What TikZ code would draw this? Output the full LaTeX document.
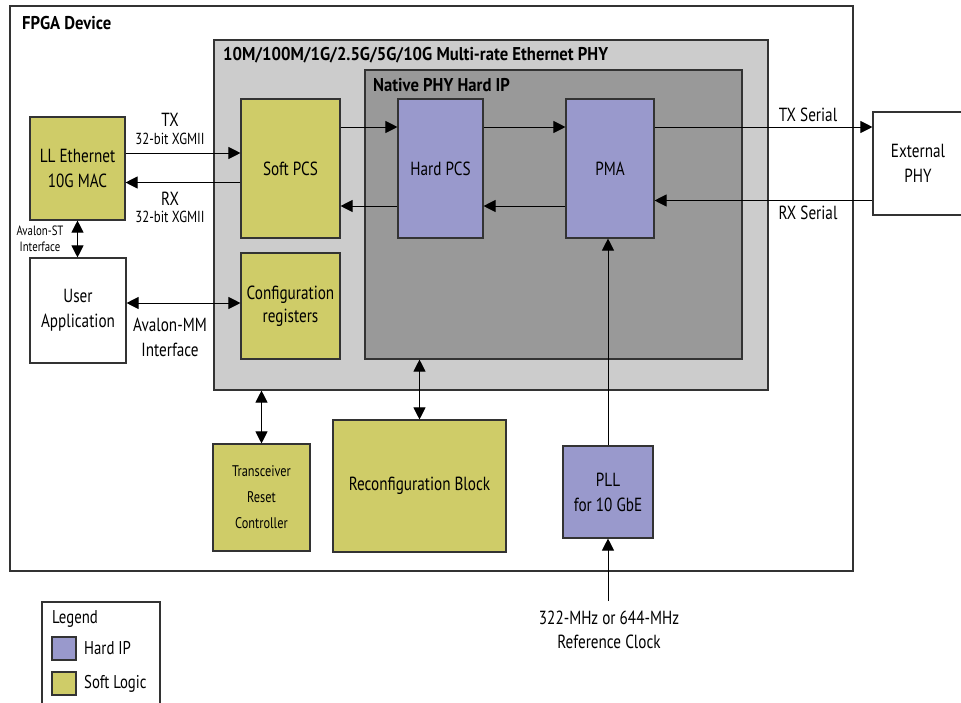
\documentclass[tikz,border=0pt]{standalone}
\usepackage{fontspec}
\setmainfont{PT Sans}[FakeStretch=0.8, BoldFeatures={FakeStretch=0.9}]
\usetikzlibrary{arrows.meta}
\definecolor{softc}{HTML}{CFCC68}
\definecolor{hardc}{HTML}{9999CC}
\definecolor{lgray}{HTML}{CCCCCC}
\definecolor{dgray}{HTML}{999999}
\definecolor{edge}{HTML}{333333}
\tikzset{
  blk/.style={draw=edge, line width=1.1pt, inner sep=0pt, align=center,
     font=\fontsize{19}{23}\selectfont},
  soft/.style={blk, fill=softc},
  hard/.style={blk, fill=hardc},
  plain/.style={blk, fill=white},
  arr/.style={line width=1pt, -{Triangle[length=12pt,width=12pt]}},
  darr/.style={line width=1pt, {Triangle[length=12pt,width=12pt]}-{Triangle[length=12pt,width=12pt]}},
  lbl/.style={inner sep=0pt, align=center, font=\fontsize{19}{23}\selectfont},
  slbl/.style={inner sep=0pt, align=center, font=\fontsize{16}{18}\selectfont},
  ttl/.style={inner sep=0pt, anchor=west, font=\bfseries\fontsize{18.5}{22}\selectfont},
}
\begin{document}
\begin{tikzpicture}[x=1pt,y=-1pt]
\useasboundingbox (0,0) rectangle (961,702);
% containers
\node[blk, fill=white, minimum width=843pt, minimum height=565pt] (fpga) at (431.5,288.5) {};
\node[ttl] (fpgat) at (22,23) {FPGA Device};
\node[blk, fill=lgray, minimum width=554pt, minimum height=350pt] (phy) at (491,215) {};
\node[ttl] (phyt) at (223,55) {10M/100M/1G/2.5G/5G/10G Multi-rate Ethernet PHY};
\node[blk, fill=dgray, minimum width=377pt, minimum height=289pt] (native) at (553.5,214.5) {};
\node[ttl] (nativet) at (373,85) {Native PHY Hard IP};
% blocks
\node[soft, minimum width=99pt, minimum height=139pt] (softpcs) at (290.5,168.5) {Soft PCS};
\node[hard, minimum width=85pt, minimum height=139pt] (hardpcs) at (440.5,168.5) {Hard PCS};
\node[hard, minimum width=88pt, minimum height=139pt] (pma) at (610,168.5) {PMA};
\node[soft, minimum width=95pt, minimum height=103pt, font=\fontsize{19}{25}\selectfont] (mac) at (77.5,168.5) {LL Ethernet\\10G MAC};
\node[plain, minimum width=96pt, minimum height=105pt, font=\fontsize{19}{25}\selectfont] (user) at (78,310.5) {User\\Application};
\node[soft, minimum width=99pt, minimum height=106pt] (config) at (290.5,306) {Configuration\\registers};
\node[plain, minimum width=90pt, minimum height=103pt, font=\fontsize{19}{25}\selectfont] (ext) at (918,163.5) {External\\PHY};
\node[soft, minimum width=97pt, minimum height=107pt, font=\fontsize{15.4}{26}\selectfont] (reset) at (261.5,497.5) {Transceiver\\Reset\\Controller};
\node[soft, minimum width=173pt, minimum height=132pt] (reconfig) at (419.5,486) {Reconfiguration Block};
\node[hard, minimum width=90pt, minimum height=92pt, font=\fontsize{19}{25}\selectfont] (pll) at (608,492) {PLL\\for 10 GbE};
\node[lbl, font=\fontsize{19}{24}\selectfont] (refclk) at (609,630) {322-MHz or 644-MHz\\Reference Clock};
\coordinate (refin) at (608,601);
% connectors
\draw[arr] ([yshift=15.5pt]mac.east) -- ([yshift=15.5pt]mac.east -| softpcs.west);
\draw[arr] ([yshift=-14pt]softpcs.west) -- ([yshift=-14pt]softpcs.west -| mac.east);
\draw[arr] ([yshift=41.5pt]softpcs.east) -- ([yshift=41.5pt]softpcs.east -| hardpcs.west);
\draw[arr] ([yshift=-37.5pt]hardpcs.west) -- ([yshift=-37.5pt]hardpcs.west -| softpcs.east);
\draw[arr] ([yshift=41.5pt]hardpcs.east) -- ([yshift=41.5pt]hardpcs.east -| pma.west);
\draw[arr] ([yshift=-37.5pt]pma.west) -- ([yshift=-37.5pt]pma.west -| hardpcs.east);
\draw[arr] ([yshift=41.5pt]pma.east) -- ([yshift=41.5pt]pma.east -| ext.west);
\draw[arr] ([yshift=-37pt]ext.west) -- ([yshift=-37pt]ext.west -| pma.east);
\draw[darr] (mac.south) -- (mac.south |- user.north);
\draw[darr] ([yshift=7.5pt]user.east) -- ([yshift=7.5pt]user.east -| config.west);
\draw[darr] (reset.north) -- (reset.north |- phy.south);
\draw[darr] (reconfig.north) -- (reconfig.north |- native.south);
\draw[arr] (pll.north) -- (pll.north |- pma.south);
\draw[arr] (refin) -- (pll.south);
% labels
\node[lbl] (txl) at (170,120) {TX};
\node[slbl] (txs) at (170,139) {32-bit XGMII};
\node[lbl] (rxl) at (170,199) {RX};
\node[slbl] (rxs) at (170,217) {32-bit XGMII};
\node[slbl, font=\fontsize{13.5}{16}\selectfont] (avst) at (40,239) {Avalon-ST\\Interface};
\node[lbl, font=\fontsize{19}{25}\selectfont] (avmm) at (170,337) {Avalon-MM\\Interface};
\node[lbl] (txser) at (808,115) {TX Serial};
\node[lbl] (rxser) at (808,213) {RX Serial};
% legend
\draw[draw=edge, line width=1.1pt] (42,712) -- (42,602) -- (160,602) -- (160,712);
\node[lbl, anchor=west, font=\fontsize{18.5}{22}\selectfont] (legt) at (52,619) {Legend};
\node[hard, minimum width=24pt, minimum height=23pt] (legh) at (64,648.5) {};
\node[soft, minimum width=24pt, minimum height=23pt] (legs) at (64,683.5) {};
\node[lbl, anchor=west, font=\fontsize{18.5}{22}\selectfont] (leght) at (84,648.5) {Hard IP};
\node[lbl, anchor=west, font=\fontsize{18.5}{22}\selectfont] (legst) at (84,683.5) {Soft Logic};
\end{tikzpicture}
\end{document}
